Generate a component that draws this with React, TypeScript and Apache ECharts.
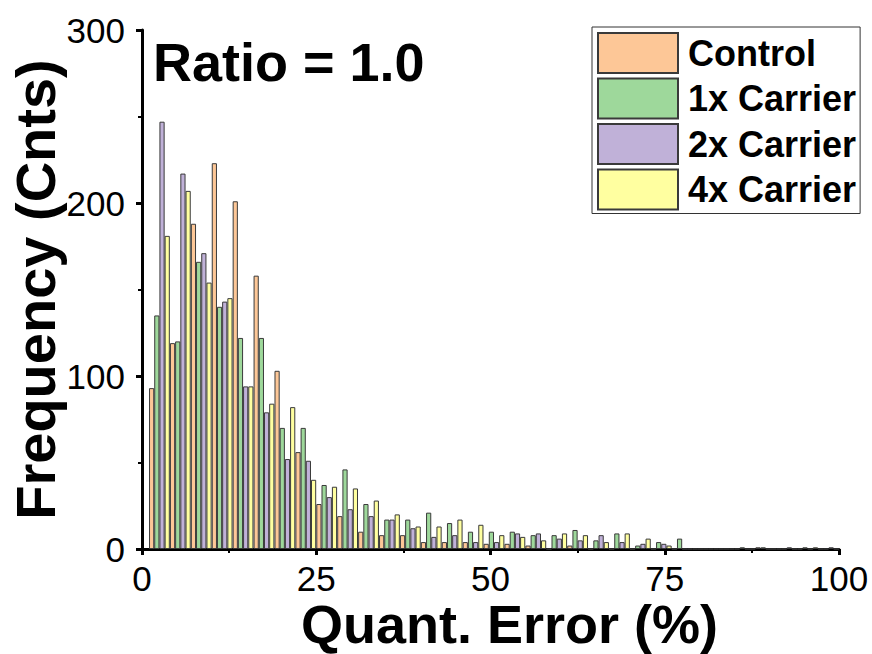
import React, { useEffect, useRef } from "react";
import * as echarts from "echarts";

// Histogram bin centres (Quant. Error %, bin width 3)
const binCenters = [
  2.5, 5.5, 8.5, 11.5, 14.5, 17.5, 20.5, 23.5, 26.5, 29.5, 32.5,
  35.5, 38.5, 41.5, 44.5, 47.5, 50.5, 53.5, 56.5, 59.5, 62.5, 65.5,
  68.5, 71.5, 74.5, 77.5, 80.5, 83.5, 86.5, 89.5, 92.5, 95.5, 98.5,
];

const control = [
  93, 119, 188, 223, 201, 158, 103, 56, 26, 19, 10,
  8, 8, 4, 4, 4, 3, 3, 2, 0, 2, 0,
  0, 0, 0, 0, 0, 0, 0, 1, 0, 0, 0,
];
const carrier1x = [
  135, 120, 166, 140, 122, 122, 70, 70, 37, 46, 26,
  17, 17, 21, 15, 10, 10, 10, 8, 8, 11, 5,
  9, 2, 4, 6, 0, 0, 1, 1, 0, 1, 0,
];
const carrier2x = [
  247, 217, 171, 143, 94, 79, 52, 51, 30, 23, 19,
  17, 12, 7, 8, 4, 4, 9, 9, 6, 5, 8,
  4, 3, 3, 0, 0, 0, 0, 0, 1, 0, 1,
];
const carrier4x = [
  181, 207, 154, 145, 94, 84, 82, 40, 36, 35, 28,
  20, 13, 13, 17, 14, 8, 7, 5, 9, 8, 4,
  9, 6, 2, 0, 0, 0, 0, 0, 0, 1, 0,
];

const seriesNames = ["Control", "1x Carrier", "2x Carrier", "4x Carrier"];
const seriesColors = ["#FDC797", "#9ED89B", "#C0B1D8", "#FFFFA0"];
const seriesValues = [control, carrier1x, carrier2x, carrier4x];

const xTicks = [0, 25, 50, 75, 100];
const yTicks = [0, 100, 200, 300];

const FONT = "'Liberation Sans', Arial, Helvetica, sans-serif";

export default function App() {
  const ref = useRef<HTMLDivElement>(null);
  useEffect(() => {
    if (!ref.current) return;
    const chart = echarts.init(ref.current, null, { renderer: "svg" });
    chart.setOption({
      animation: false,
      backgroundColor: "#ffffff",
      grid: {
        left: 142,
        right: 33,
        top: 30,
        bottom: 105,
        containLabel: false,
        outerBoundsMode: "none",
      },
      legend: {
        orient: "vertical",
        left: 592,
        top: 27,
        padding: [5, 4, 3, 5],
        itemWidth: 80,
        itemHeight: 40,
        itemGap: 3.5,
        borderColor: "#333",
        borderWidth: 1,
        backgroundColor: "#fff",
        icon: "rect",
        data: seriesNames,
        textStyle: {
          fontFamily: FONT,
          fontWeight: "bold",
          fontSize: 36,
          lineHeight: 34,
          color: "#000",
          padding: [0, 0, 0, 5],
        },
      },
      xAxis: {
        type: "value",
        min: xTicks[0],
        max: xTicks[xTicks.length - 1],
        interval: 25,
        name: "Quant. Error (%)",
        nameLocation: "middle",
        nameGap: 52,
        nameMoveOverlap: false,
        nameTextStyle: {
          fontFamily: FONT,
          fontWeight: "bold",
          fontSize: 54,
          lineHeight: 46,
          color: "#000",
          padding: [0, 0, 0, 38],
        },
        axisLine: { show: true, lineStyle: { color: "#000", width: 3 } },
        axisTick: { show: true, length: 6, lineStyle: { color: "#000", width: 3 } },
        minorTick: { show: true, splitNumber: 2, length: 4, lineStyle: { color: "#000", width: 2 } },
        axisLabel: { fontFamily: FONT, fontSize: 35, lineHeight: 30, color: "#000", margin: 14 },
        splitLine: { show: false },
      },
      yAxis: {
        type: "value",
        min: yTicks[0],
        max: yTicks[yTicks.length - 1],
        interval: 100,
        name: "Frequency (Cnts)",
        nameLocation: "middle",
        nameGap: 79,
        nameMoveOverlap: false,
        nameRotate: 90,
        nameTextStyle: { fontFamily: FONT, fontWeight: "bold", fontSize: 56, color: "#000" },
        axisLine: { show: true, lineStyle: { color: "#000", width: 3 } },
        axisTick: { show: true, length: 6, lineStyle: { color: "#000", width: 3 } },
        minorTick: { show: true, splitNumber: 2, length: 4, lineStyle: { color: "#000", width: 2 } },
        axisLabel: { fontFamily: FONT, fontSize: 35, color: "#000", margin: 17 },
        splitLine: { show: false },
      },
      graphic: [
        {
          type: "text",
          left: 153,
          top: 35,
          style: {
            text: "Ratio = 1.0",
            fontFamily: FONT,
            fontWeight: "bold",
            fontSize: 54,
            fill: "#000",
          },
        },
      ],
      series: seriesNames.map((name, i) => ({
        name,
        type: "bar",
        barWidth: 5.2,
        barGap: "0%",
        data: binCenters.map((c, j) => [c, seriesValues[i][j]]),
        itemStyle: { color: seriesColors[i], borderColor: "#3a3a3a", borderWidth: 1 },
      })),
    });
    return () => chart.dispose();
  }, []);
  return (
    <div
      ref={ref}
      style={{ position: "fixed", left: 0, top: 0, width: 872, height: 654 }}
    />
  );
}
